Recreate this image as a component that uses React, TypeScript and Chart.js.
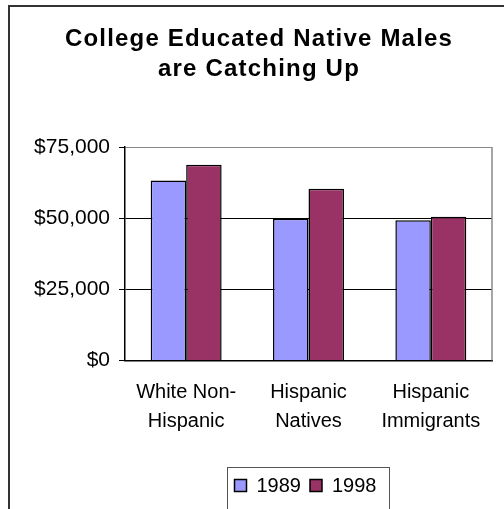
import React, { useEffect, useRef } from 'react';
import { Chart, registerables } from 'chart.js';
Chart.register(...registerables);

const titleLines = ['College Educated Native Males', 'are Catching Up'];
const categories = [['White Non-', 'Hispanic'], ['Hispanic', 'Natives'], ['Hispanic', 'Immigrants']];
const seriesNames = ['1989', '1998'];
const values1989 = [63200, 49800, 49300];
const values1998 = [68800, 60300, 50500];
const yMin = 0;
const yMax = 75000;
const yStep = 25000;
const seriesColors = ['#9999FF', '#993366'];

const FONT = '"Liberation Sans", Arial, sans-serif';

const decorPlugin = {
  id: 'titleFrameLegend',
  afterDraw(chart: any) {
    const { ctx, chartArea: a, width } = chart;
    ctx.save();
    // title (slightly letter-spaced, as in the reference)
    ctx.font = `bold 24px ${FONT}`;
    ctx.fillStyle = '#000000';
    ctx.textAlign = 'center';
    ctx.textBaseline = 'middle';
    try {
      (ctx as any).letterSpacing = '1.2px';
    } catch (e) {}
    titleLines.forEach((line, i) => {
      ctx.fillText(line, width / 2 + 2, 32.5 + i * 30);
    });
    try {
      (ctx as any).letterSpacing = '0px';
    } catch (e) {}

    // right plot border
    ctx.strokeStyle = '#888888';
    ctx.lineWidth = 1.5;
    ctx.beginPath();
    ctx.moveTo(a.right, a.top);
    ctx.lineTo(a.right, a.bottom);
    ctx.stroke();

    // legend
    ctx.font = `20px ${FONT}`;
    const items = chart.data.datasets.map((d: any) => ({
      label: d.label,
      color: d.backgroundColor,
      w: ctx.measureText(d.label).width,
    }));
    const sq = 12, padL = 7, gap = 10, between = 9, padR = 11;
    let total = padL + padR;
    items.forEach((it: any, i: number) => {
      total += sq + gap + it.w + (i < items.length - 1 ? between : 0);
    });
    const cx = (a.left + a.right) / 2;
    const left = Math.round(cx - total / 2) - 1.5;
    const top = Math.round(a.bottom + 106) + 0.5;
    ctx.strokeStyle = '#555555';
    ctx.lineWidth = 1;
    ctx.strokeRect(left, top, total + 2, 60);
    const cy = top + 18;
    let x = left + padL;
    items.forEach((it: any) => {
      ctx.fillStyle = it.color;
      ctx.fillRect(x, cy - 6, sq, sq);
      ctx.strokeStyle = '#000';
      ctx.lineWidth = 1.5;
      ctx.strokeRect(x, cy - 6, sq, sq);
      x += sq + gap;
      ctx.fillStyle = '#000';
      ctx.textBaseline = 'middle';
      ctx.textAlign = 'left';
      ctx.fillText(it.label, x, cy + 1);
      x += it.w + between;
    });
    ctx.restore();
  },
};

export default function App() {
  const ref = useRef<HTMLCanvasElement | null>(null);
  useEffect(() => {
    if (!ref.current) return;
    const chart = new Chart(ref.current, {
      type: 'bar',
      data: {
        labels: categories as any,
        datasets: [
          {
            label: seriesNames[0],
            data: values1989,
            backgroundColor: seriesColors[0],
            borderColor: '#000000',
            borderWidth: 1.5,
            categoryPercentage: 0.58,
            barPercentage: 1,
          },
          {
            label: seriesNames[1],
            data: values1998,
            backgroundColor: seriesColors[1],
            borderColor: '#000000',
            borderWidth: 1.5,
            categoryPercentage: 0.58,
            barPercentage: 1,
          },
        ],
      },
      options: {
        animation: false,
        responsive: true,
        maintainAspectRatio: false,
        layout: { padding: { left: 0, right: 12, top: 140, bottom: 0 } },
        plugins: {
          legend: { display: false },
          tooltip: { enabled: false },
          title: { display: false },
        },
        scales: {
          x: {
            grid: { display: false, drawTicks: false },
            border: { display: true, color: '#000000', width: 1.5 },
            ticks: {
              color: '#000000',
              font: { family: FONT, size: 20, lineHeight: 29 / 20 },
              padding: 17,
              maxRotation: 0,
              autoSkip: false,
            },
            afterFit(scale: any) {
              scale.height = 148.5;
            },
          },
          y: {
            min: yMin,
            max: yMax,
            ticks: {
              stepSize: yStep,
              color: '#000000',
              font: { family: FONT, size: 21 },
              padding: 9,
              callback: (v: any) => '$' + Number(v).toLocaleString('en-US'),
            },
            grid: {
              color: (c: any) => (c.tick && c.tick.value === yMax ? '#888888' : '#000000'),
              lineWidth: 1,
              tickColor: '#000000',
              tickLength: 6,
            },
            border: { display: true, color: '#000000', width: 1.5 },
            afterFit(scale: any) {
              scale.width = 115;
            },
          },
        },
      },
      plugins: [decorPlugin],
    } as any);
    return () => chart.destroy();
  }, []);

  return (
    <div
      style={{
        position: 'fixed',
        left: 8,
        top: 5,
        width: 494,
        height: 502,
        borderLeft: '2px solid #333333',
        borderTop: '2px solid #333333',
        background: '#ffffff',
      }}
    >
      <canvas ref={ref} style={{ width: '100%', height: '100%' }} />
    </div>
  );
}
